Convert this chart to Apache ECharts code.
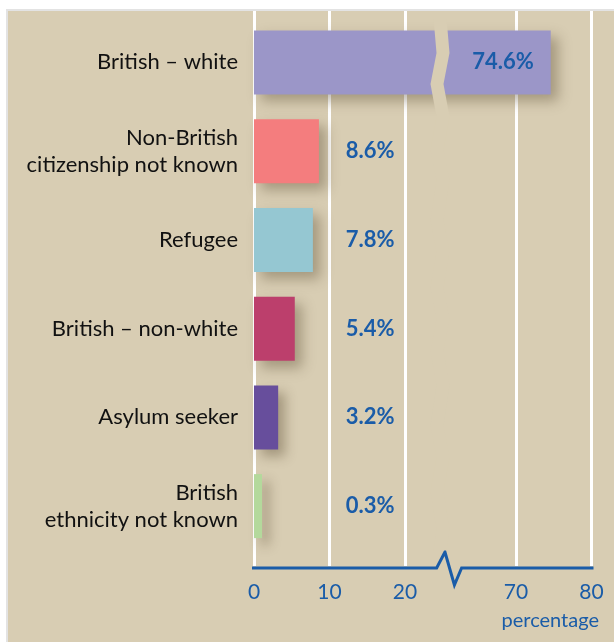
<!DOCTYPE html>
<html>
<head>
<meta charset="utf-8">
<script src="https://cdn.jsdelivr.net/npm/echarts@6.0.0/dist/echarts.min.js"></script>
<style>
  html, body { margin: 0; padding: 0; background: #ffffff; }
  #chart { width: 614px; height: 642px; }
</style>
</head>
<body>
<div id="chart"></div>
<script>
// ethnicity / citizenship breakdown, percentage
const categories = [
  'British – white',
  'Non-British\ncitizenship not known',
  'Refugee',
  'British – non-white',
  'Asylum seeker',
  'British\nethnicity not known'
];
const values = [74.6, 8.6, 7.8, 5.4, 3.2, 0.3];
const barColors = ['#9b96c8', '#f47d7e', '#95c7d2', '#bc3f6c', '#674e9c', '#b4d99c'];
const tickValues = [0, 10, 20, 70, 80];

const BG = '#d8cdb3';
const BLUE = '#1a5ca8';
const FONT = 'Lato, "Open Sans", sans-serif';

const chart = echarts.init(document.getElementById('chart'));

// axis break between 20 and 70
const axisBreaks = [{ start: 23.8, end: 60.7, gap: 1.6 }];
const labelAnchor = 18.6; // where the small value labels end (right aligned)

const barData = values.map(function (v, i) {
  return {
    value: v,
    itemStyle: { color: barColors[i] },
    label: i === 0
      ? { position: 'insideRight', distance: 17 }
      : { position: 'right' }
  };
});

function panel() {
  return [
    { type: 'rect', z: -10, shape: { x: 6, y: 9, width: 608, height: 633 }, style: { fill: '#e3e3e3' }, silent: true },
    { type: 'rect', z: -9, shape: { x: 8, y: 11, width: 606, height: 631 }, style: { fill: BG }, silent: true }
  ];
}

const option = {
  backgroundColor: '#ffffff',
  animation: false,
  graphic: panel(),
  grid: [
    { left: 254, right: 22.5, top: 18, bottom: 91.5 },
    { left: 254, right: 22.5, top: 11, bottom: 76 }
  ],
  xAxis: [
    {
      gridIndex: 0,
      type: 'value',
      min: 0,
      max: 80,
      interval: 10,
      breaks: axisBreaks,
      breakArea: {
        show: true,
        expandOnClick: false,
        itemStyle: { color: BG, borderWidth: 0, borderColor: BG, opacity: 1 },
        zigzagAmplitude: 3,
        zigzagMinSpan: 30,
        zigzagMaxSpan: 40,
        zigzagZ: 100
      },
      axisLine: { show: false },
      axisTick: { show: false },
      axisLabel: { show: false },
      splitLine: { show: false }
    },
    {
      gridIndex: 1,
      type: 'value',
      min: 0,
      max: 80,
      interval: 10,
      breaks: axisBreaks,
      breakArea: { show: false, expandOnClick: false },
      axisLine: { show: false },
      axisTick: { show: false, customValues: tickValues },
      axisLabel: {
        color: BLUE,
        fontFamily: FONT,
        fontSize: 21,
        margin: 16,
        hideOverlap: false,
        customValues: tickValues
      },
      splitLine: { show: true, lineStyle: { color: '#ffffff', width: 3 } }
    }
  ],
  yAxis: [
    {
      gridIndex: 0,
      type: 'category',
      data: categories,
      inverse: true,
      axisLine: { show: false },
      axisTick: { show: false },
      axisLabel: {
        color: '#111111',
        fontFamily: FONT,
        fontSize: 22,
        lineHeight: 27,
        margin: 16,
        align: 'right'
      }
    },
    {
      gridIndex: 1,
      type: 'value',
      show: false
    }
  ],
  title: {
    text: 'percentage',
    right: 10,
    top: 606,
    textStyle: { color: BLUE, fontFamily: FONT, fontSize: 20, fontWeight: 'normal' }
  },
  series: [
    {
      type: 'bar',
      xAxisIndex: 0,
      yAxisIndex: 0,
      barWidth: 64,
      barMinHeight: 8,
      data: barData,
      itemStyle: {
        shadowColor: 'rgba(70, 55, 30, 0.35)',
        shadowBlur: 12,
        shadowOffsetX: 7,
        shadowOffsetY: 7
      },
      label: {
        show: true,
        color: BLUE,
        fontFamily: FONT,
        fontSize: 22,
        fontWeight: 'bold',
        formatter: function (p) { return p.value.toFixed(1) + '%'; }
      },
      labelLayout: function (params) {
        if (params.dataIndex === 0) return {};
        const x = chart.convertToPixel({ xAxisIndex: 0 }, labelAnchor);
        return {
          x: x,
          y: params.rect.y + params.rect.height / 2,
          align: 'right',
          verticalAlign: 'middle'
        };
      }
    }
  ]
};

chart.setOption(option);

// blue axis line with a zigzag at the break
const y0 = chart.convertToPixel({ gridIndex: 1 }, [0, 0])[1] + 2;
const x0 = chart.convertToPixel({ xAxisIndex: 1 }, 0);
const x20 = chart.convertToPixel({ xAxisIndex: 1 }, 20);
const x70 = chart.convertToPixel({ xAxisIndex: 1 }, 70);
const x80 = chart.convertToPixel({ xAxisIndex: 1 }, 80);
const span = x70 - x20;
chart.setOption({
  graphic: panel().concat([
    {
      type: 'polyline',
      z: 50,
      silent: true,
      shape: {
        points: [
          [x0 - 2, y0],
          [x20 + span * 0.285, y0],
          [x20 + span * 0.36, y0 - 16],
          [x20 + span * 0.445, y0 + 17],
          [x20 + span * 0.51, y0],
          [x80 + 2, y0]
        ]
      },
      style: { stroke: BLUE, lineWidth: 3, fill: null, lineJoin: 'miter' }
    }
  ])
});
</script>
</body>
</html>
